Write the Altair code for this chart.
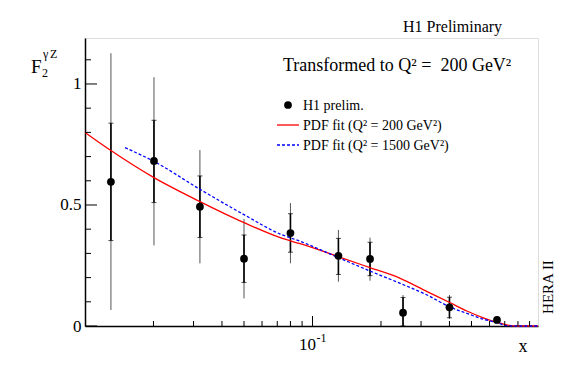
import altair as alt
import pandas as pd

# ---- data ----
pt_x = [0.0130, 0.0201, 0.0320, 0.0500, 0.0800, 0.1300, 0.1790, 0.2500, 0.4000, 0.6470]
pt_y = [0.596, 0.682, 0.493, 0.278, 0.384, 0.290, 0.277, 0.055, 0.077, 0.025]
in_lo = [0.353, 0.510, 0.366, 0.180, 0.305, 0.213, 0.208, 0.000, 0.034, 0.018]
in_hi = [0.838, 0.850, 0.620, 0.376, 0.464, 0.362, 0.346, 0.118, 0.119, 0.032]
out_lo = [0.066, 0.333, 0.259, 0.114, 0.259, 0.183, 0.187, 0.000, 0.029, 0.015]
out_hi = [1.127, 1.028, 0.727, 0.442, 0.508, 0.397, 0.365, 0.128, 0.128, 0.035]

red_x = [0.0100, 0.0130, 0.0201, 0.0320, 0.0500, 0.0721, 0.0883, 0.1297, 0.179, 0.243,
         0.319, 0.399, 0.477, 0.563, 0.648, 0.720, 0.800, 0.980]
red_y = [0.800, 0.725, 0.613, 0.514, 0.427, 0.365, 0.340, 0.287, 0.241, 0.197,
         0.142, 0.098, 0.062, 0.034, 0.015, 0.004, 0.000, 0.000]

blue_x = [0.0150, 0.0201, 0.0320, 0.0500, 0.0721, 0.0883, 0.1297, 0.179, 0.243,
          0.319, 0.399, 0.477, 0.563, 0.648, 0.716, 0.800, 0.980]
blue_y = [0.737, 0.680, 0.565, 0.460, 0.380, 0.350, 0.283, 0.227, 0.176,
          0.128, 0.080, 0.052, 0.028, 0.014, 0.001, 0.000, 0.000]

y_major = [0.0, 0.5, 1.0]
y_minor = [0.1, 0.2, 0.3, 0.4, 0.6, 0.7, 0.8, 0.9, 1.1]
x_major = [0.1]
x_minor = [0.02, 0.03, 0.04, 0.05, 0.06, 0.07, 0.08, 0.09,
           0.2, 0.3, 0.4, 0.5, 0.6, 0.7, 0.8, 0.9]

W, H = 453, 288
FONT = "'Liberation Serif', 'Times New Roman', Times, serif"

pts = pd.DataFrame(dict(x=pt_x, y=pt_y, ilo=in_lo, ihi=in_hi, olo=out_lo, ohi=out_hi))
red = pd.DataFrame(dict(x=red_x, y=red_y))
blue = pd.DataFrame(dict(x=blue_x, y=blue_y))

xs = alt.Scale(type="log", domain=[0.01, 0.98], nice=False)
ys = alt.Scale(domain=[0, 1.19], nice=False, zero=False)

X = alt.X("x:Q", scale=xs,
          axis=alt.Axis(labels=False, ticks=False, grid=False, title=None,
                        domainColor="black", domainWidth=1.5))
Y = alt.Y("y:Q", scale=ys,
          axis=alt.Axis(values=y_major, labelExpr="datum.value == 0 ? '0' : datum.value == 1 ? '1' : '0.5'",
                        ticks=False, grid=False, title=None, labelFont=FONT,
                        labelFontSize=17, labelColor="black", labelPadding=4,
                        domainColor="black", domainWidth=1.5))

outer = alt.Chart(pts).mark_rule(color="#555555", strokeWidth=1).encode(
    x=X, y=alt.Y("olo:Q", scale=ys), y2="ohi:Q")
inner = alt.Chart(pts).mark_rule(color="black", strokeWidth=1.6).encode(
    x="x:Q", y=alt.Y("ilo:Q", scale=ys), y2="ihi:Q")
cap_hi = alt.Chart(pts).mark_tick(orient="horizontal", color="black", size=5, thickness=1).encode(
    x="x:Q", y=alt.Y("ihi:Q", scale=ys))
cap_lo = alt.Chart(pts).mark_tick(orient="horizontal", color="black", size=5, thickness=1).encode(
    x="x:Q", y=alt.Y("ilo:Q", scale=ys))

red_line = alt.Chart(red).mark_line(color="#ff0000", strokeWidth=1.3, interpolate="monotone").encode(
    x="x:Q", y=Y)
blue_line = alt.Chart(blue).mark_line(color="#0000ff", strokeWidth=1.3, strokeDash=[3, 2],
                                      interpolate="monotone").encode(x="x:Q", y="y:Q")
points = alt.Chart(pts).mark_circle(color="black", opacity=1, size=60).encode(x="x:Q", y="y:Q")

# custom inward ticks
ytm = alt.Chart(pd.DataFrame(dict(v=y_major))).mark_rule(color="black", strokeWidth=1).encode(
    y=alt.Y("v:Q", scale=ys), x=alt.value(0), x2=alt.value(12))
ytn = alt.Chart(pd.DataFrame(dict(v=y_minor))).mark_rule(color="black", strokeWidth=1).encode(
    y=alt.Y("v:Q", scale=ys), x=alt.value(0), x2=alt.value(6))
xtm = alt.Chart(pd.DataFrame(dict(v=x_major))).mark_rule(color="black", strokeWidth=1).encode(
    x=alt.X("v:Q", scale=xs), y=alt.value(H), y2=alt.value(H - 10))
xtn = alt.Chart(pd.DataFrame(dict(v=x_minor))).mark_rule(color="black", strokeWidth=1).encode(
    x=alt.X("v:Q", scale=xs), y=alt.value(H), y2=alt.value(H - 5))

one = pd.DataFrame(dict(a=[0]))


def txt(s, px, py, size, **kw):
    return alt.Chart(one).mark_text(font=FONT, fontSize=size, color="black",
                                    baseline=kw.pop("baseline", "alphabetic"),
                                    align=kw.pop("align", "left"), **kw).encode(
        x=alt.value(px), y=alt.value(py), text=alt.value(s))


tick_lbl = alt.Chart(pd.DataFrame(dict(v=x_major))).mark_text(
    font=FONT, fontSize=17, color="black", align="center", baseline="alphabetic", dx=-5).encode(
    x=alt.X("v:Q", scale=xs), y=alt.value(312), text=alt.value("10"))
tick_exp = alt.Chart(pd.DataFrame(dict(v=x_major))).mark_text(
    font=FONT, fontSize=12, color="black", align="left", baseline="alphabetic", dx=4).encode(
    x=alt.X("v:Q", scale=xs), y=alt.value(304), text=alt.value("-1"))

texts = [
    txt("H1 Preliminary", 318, -6, 16),
    txt("Transformed to Q\u00b2 =\u00a0 200 GeV\u00b2", 198, 33, 18),
    txt("H1 prelim.", 218, 72, 14),
    txt("PDF fit (Q\u00b2 = 200 GeV\u00b2)", 218, 92, 14),
    txt("PDF fit (Q\u00b2 = 1500 GeV\u00b2)", 218, 112, 14),
    txt("HERA II", 463, 249, 15, angle=270, align="center", baseline="middle"),
    txt("x", 438, 314, 18, align="center"),
    txt("F", -54, 35, 19),
    txt("2", -43, 39, 12),
    txt("\u03b3", -42, 20, 12),
    txt("Z", -35, 20, 12),
]

leg_pt = alt.Chart(one).mark_circle(color="black", opacity=1, size=60).encode(
    x=alt.value(203), y=alt.value(67))
leg_red = alt.Chart(one).mark_rule(color="#ff0000", strokeWidth=1.3).encode(
    x=alt.value(192), x2=alt.value(214), y=alt.value(87))
leg_blue = alt.Chart(one).mark_rule(color="#0000ff", strokeWidth=1.3, strokeDash=[3, 2]).encode(
    x=alt.value(192), x2=alt.value(214), y=alt.value(107))

chart = alt.layer(
    outer, inner, cap_hi, cap_lo, red_line, blue_line, points,
    ytm, ytn, xtm, xtn, tick_lbl, tick_exp, leg_pt, leg_red, leg_blue, *texts
).properties(
    width=W, height=H,
    autosize=alt.AutoSizeParams(type="none"),
    padding={"left": 77, "top": 30, "right": 21, "bottom": 50},
).configure_view(stroke="black", strokeWidth=1).configure(background="white")

chart.save("out.html", embed_options={"renderer": "svg", "actions": False})
